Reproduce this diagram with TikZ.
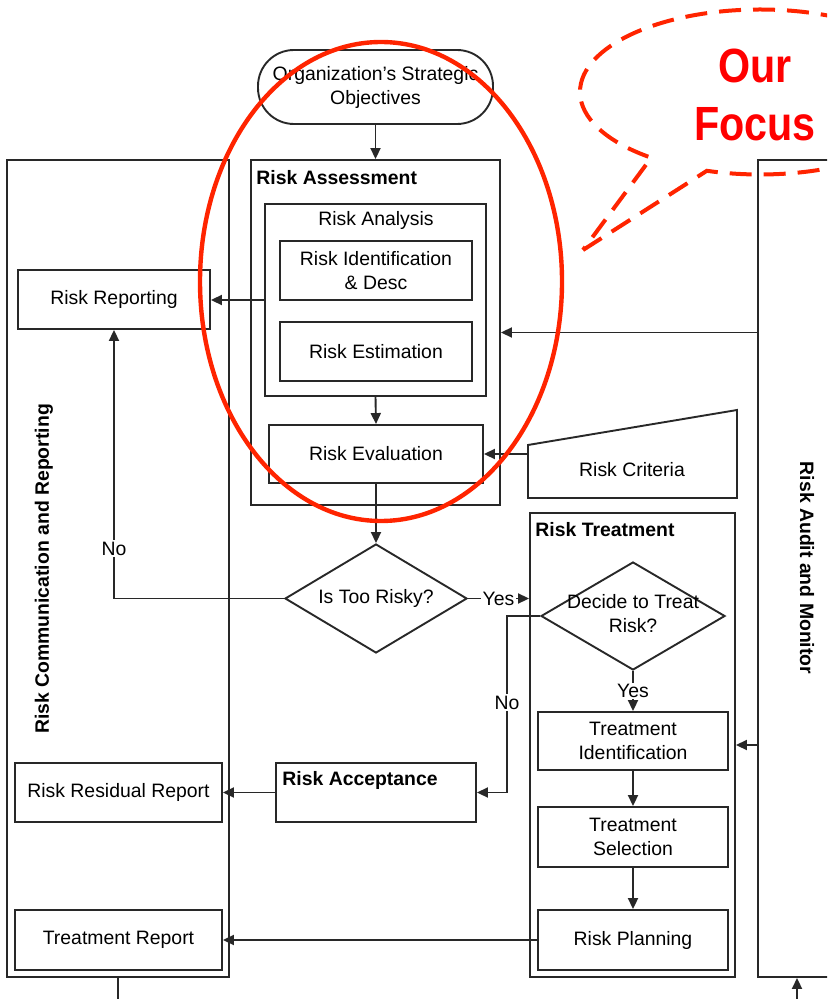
\documentclass[tikz,border=0pt]{standalone}
\usepackage{fontspec}
\setmainfont{Liberation Sans}
\usetikzlibrary{arrows.meta,shapes.geometric,shapes.callouts,shapes.misc}
\definecolor{ringred}{RGB}{255,36,0}
\definecolor{focusred}{RGB}{255,0,0}
\definecolor{lnc}{RGB}{40,40,40}
\begin{document}
\begin{tikzpicture}[x=0.5pt,y=-0.5pt,
  ln/.style={draw=lnc, line width=0.95pt},
  arr/.style={ln, -{Triangle[length=5.5pt,width=5pt]}},
  box/.style={ln, rectangle, inner sep=1pt, align=center, font=\fontsize{9.7pt}{12pt}\selectfont},
  grp/.style={ln, rectangle, inner sep=0pt},
  ttl/.style={inner sep=0pt, font=\bfseries\fontsize{9.7pt}{12pt}\selectfont},
  txt/.style={inner sep=0pt, align=center, font=\fontsize{9.7pt}{12pt}\selectfont},
  dia/.style={ln, diamond, inner sep=0pt, font=\fontsize{9.7pt}{12pt}\selectfont},
  lbl/.style={fill=white, inner sep=1pt, font=\fontsize{9.7pt}{12pt}\selectfont}]
\useasboundingbox (0,0) rectangle (827,999);
\clip (0,0) rectangle (827,999);

% top objective
\node[box, rounded corners=18pt, minimum width=117.5pt, minimum height=37pt] (obj) at (375.5,87) {Organization's Strategic\\Objectives};

% swimlane columns
\node[grp, minimum width=111pt, minimum height=408.5pt] (lcol) at (118,568.5) {};
\node[ttl, rotate=90] (lcolT) at (44,569) {Risk Communication and Reporting};
\node[grp, minimum width=71pt, minimum height=408.5pt] (rcol) at (829,568.5) {};
\node[ttl, rotate=-90] (rcolT) at (807,568) {Risk Audit and Monitor};

% risk assessment group
\node[grp, minimum width=124.5pt, minimum height=172.5pt] (ra) at (375.5,332.5) {};
\node[ttl, anchor=west] (raT) at (256,178) {Risk Assessment};
\node[grp, minimum width=110.5pt, minimum height=96pt] (ran) at (375.5,300) {};
\node[txt] (ranT) at (376,220) {Risk Analysis};
\node[box, minimum width=96pt, minimum height=29.5pt] (rid) at (376,270.5) {Risk Identification\\\& Desc};
\node[box, minimum width=96pt, minimum height=29.5pt] (rest) at (376,351.5) {Risk Estimation};
\node[box, minimum width=107pt, minimum height=29pt] (rev) at (376,454) {Risk Evaluation};

% risk criteria
\draw[ln] (528,445) -- (737,410) -- (737,498) -- (528,498) -- cycle;
\node[txt] (crit) at (632,470) {Risk Criteria};
\coordinate (critw) at (528,454);

% left column boxes
\node[box, minimum width=96pt, minimum height=29.5pt] (rrep) at (114,299.5) {Risk Reporting};
\node[box, minimum width=103.5pt, minimum height=29.5pt] (rrr) at (118.5,792.5) {Risk Residual Report};
\node[box, minimum width=103.5pt, minimum height=30pt] (tr) at (118.5,940) {Treatment Report};

% decision
\node[dia, minimum width=91pt, minimum height=54.5pt] (d1) at (376,598.5) {\makebox[0pt]{Is Too Risky?}};

% risk acceptance
\node[grp, minimum width=100pt, minimum height=29.5pt] (rac) at (376,792.5) {};
\node[ttl, anchor=west] (racT) at (282,780) {Risk Acceptance};

% risk treatment group
\node[grp, minimum width=102.5pt, minimum height=232pt] (rt) at (632.5,745) {};
\node[ttl, anchor=west] (rtT) at (535,530) {Risk Treatment};
\node[dia, minimum width=92pt, minimum height=54pt] (d2) at (633,616) {\makebox[0pt]{\begin{tabular}{@{}c@{}}Decide to Treat\\Risk?\end{tabular}}};
\node[box, minimum width=95pt, minimum height=29pt] (ti) at (633,741) {Treatment\\Identification};
\node[box, minimum width=95pt, minimum height=30pt] (ts) at (633,837) {Treatment\\Selection};
\node[box, minimum width=95pt, minimum height=30pt] (rp) at (633,940) {Risk Planning};

% connectors
\draw[arr] (obj.south) -- (ra.north);
\draw[arr] (ran.west) -- (rrep.east |- ran.west);
\draw[arr] (ran.south) -- (rev.north);
\draw[arr] (rcol.west |- ra.east) -- (ra.east);
\draw[arr] (critw) -- (rev.east);
\draw[arr] (rev.south) -- (d1.north);
\draw[arr] (d1.west) -| (rrep.south) node[lbl, pos=0.593] {No};
\draw[arr] (d1.east) -- (d1.east -| rt.west) node[lbl, midway] {Yes};
\coordinate (nobend) at (507,616);
\draw[arr] (d2.west) -- (nobend) |- (rac.east) node[lbl, pos=0.245] {No};
\draw[arr] (d2.south) -- (ti.north) node[lbl, midway, inner sep=0.5pt] {Yes};
\draw[arr] (ti.south) -- (ts.north);
\draw[arr] (ts.south) -- (rp.north);
\draw[arr] (rp.west) -- (tr.east);
\draw[arr] (rac.west) -- (rrr.east);
\draw[arr] (rcol.west |- rt.east) -- (rt.east);
\coordinate (lout) at (118,1010);
\draw[ln] (lcol.south) -- (lout);
\coordinate (rin) at (797,1010);
\draw[arr] (rin) -- (rin |- rcol.south);

% focus highlight
\node[draw=ringred, line width=2.2pt, ellipse, inner sep=0pt, minimum width=181pt, minimum height=239.5pt] (ring) at (381,281.5) {};
\node[draw=ringred, line width=2pt, dash pattern=on 11pt off 6pt, ellipse callout, inner sep=0pt,
  minimum width=180pt, minimum height=82.5pt, callout absolute pointer={(583,250)}, callout pointer arc=20] (callout) at (760,92) {};
\node[text=focusred, inner sep=0pt, align=center, font=\bfseries\fontsize{24pt}{29pt}\selectfont] (focus) at (755,95) {\scalebox{0.86}[1]{Our}\\\scalebox{0.86}[1]{Focus}};
\end{tikzpicture}
\end{document}
